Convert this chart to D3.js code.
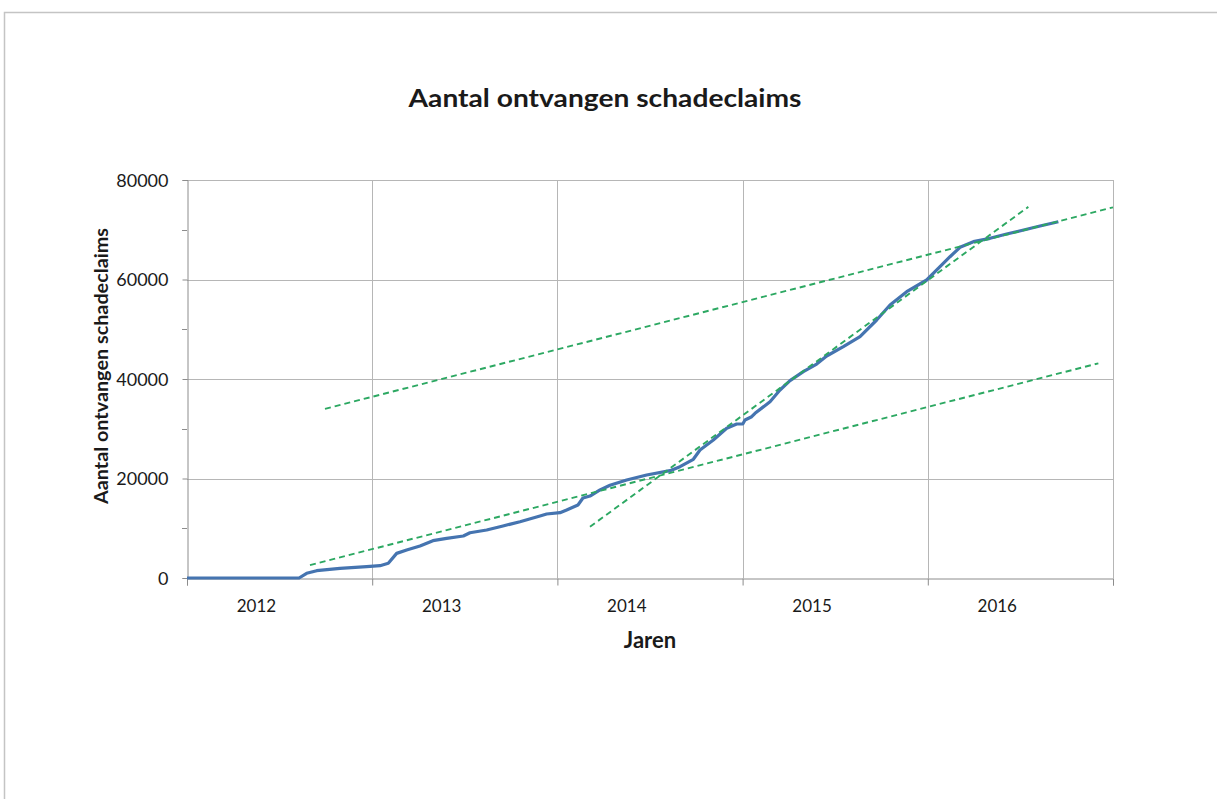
<!DOCTYPE html>
<html>
<head>
<meta charset="utf-8">
<script src="https://cdn.jsdelivr.net/npm/d3@7"></script>
<style>
  html, body { margin: 0; padding: 0; background: #fff; }
  svg { display: block; }
  text { font-family: Lato, "Open Sans", "Liberation Sans", sans-serif; fill: #1a1a1a; }
</style>
</head>
<body>
<svg id="chart" width="1217" height="799"></svg>
<script>
// ---- data ----
const titleText = "Aantal ontvangen schadeclaims";
const yAxisTitle = "Aantal ontvangen schadeclaims";
const xAxisTitle = "Jaren";

const yearLabels = ["2012", "2013", "2014", "2015", "2016"];
const yearBoundaries = [2012, 2013, 2014, 2015, 2016, 2017];
const yMajorTicks = [0, 20000, 40000, 60000, 80000];
const yMinorTicks = [10000, 30000, 50000, 70000];

// cumulative claims (time as fractional year)
const claimYears = [2012.0, 2012.605, 2012.646, 2012.700, 2012.826, 2012.970, 2013.042, 2013.087, 2013.132,
  2013.186, 2013.258, 2013.328, 2013.402, 2013.492, 2013.528, 2013.618, 2013.706, 2013.798, 2013.906,
  2013.942, 2014.014, 2014.050, 2014.111, 2014.138, 2014.176, 2014.230, 2014.284, 2014.374, 2014.482,
  2014.608, 2014.662, 2014.734, 2014.770, 2014.842, 2014.914, 2014.968, 2015.001, 2015.013, 2015.049,
  2015.067, 2015.148, 2015.202, 2015.256, 2015.328, 2015.400, 2015.454, 2015.544, 2015.634, 2015.724,
  2015.796, 2015.886, 2015.994, 2016.066, 2016.120, 2016.174, 2016.246, 2016.336, 2016.426, 2016.534,
  2016.606, 2016.705];
const claimCounts = [0, 0, 950, 1470, 1950, 2270, 2470, 2950, 4950,
  5630, 6430, 7500, 7980, 8440, 9100, 9650, 10450, 11320, 12460,
  12860, 13130, 13670, 14670, 16080, 16480, 17690, 18630, 19700, 20700,
  21570, 22370, 23860, 25730, 27740, 30090, 30950, 30950, 31760, 32420,
  33100, 35440, 37790, 39660, 41470, 43010, 44620, 46490, 48500, 51860,
  54870, 57550, 59900, 62570, 64580, 66470, 67600, 68280, 69140, 70090,
  70750, 71620];

// dashed trend lines: [start, end]
const trendUpperYears = [2012.745, 2017.0];
const trendUpperValues = [34000, 74500];
const trendLowerYears = [2012.664, 2016.921];
const trendLowerValues = [2600, 43150];
const trendSteepYears = [2014.176, 2016.543];
const trendSteepValues = [10300, 74600];

// ---- layout ----
const svg = d3.select("#chart");
const plot = { left: 187, right: 1113, top: 180, bottom: 578 };

const x = d3.scaleLinear().domain([2012, 2017]).range([plot.left, plot.right]);
const y = d3.scaleLinear().domain([0, 80000]).range([plot.bottom, plot.top]);

// outer chart border
svg.append("rect")
  .attr("x", 4.5).attr("y", 12.5)
  .attr("width", 1300).attr("height", 900)
  .attr("fill", "none").attr("stroke", "#c4c4c4").attr("stroke-width", 1.5);

// horizontal gridlines
svg.append("g").selectAll("line").data(yMajorTicks.filter(d => d > 0)).join("line")
  .attr("x1", plot.left).attr("x2", plot.right)
  .attr("y1", d => Math.round(y(d)) + 0.5).attr("y2", d => Math.round(y(d)) + 0.5)
  .attr("stroke", "#b6b6b6").attr("stroke-width", 1);

// vertical gridlines at year boundaries
svg.append("g").selectAll("line").data(yearBoundaries.slice(1)).join("line")
  .attr("x1", d => Math.round(x(d)) + 0.5).attr("x2", d => Math.round(x(d)) + 0.5)
  .attr("y1", plot.top).attr("y2", plot.bottom)
  .attr("stroke", "#b6b6b6").attr("stroke-width", 1);

// y axis
const yAxis = d3.axisLeft(y).tickValues(yMajorTicks).tickSize(5).tickPadding(14).tickFormat(d3.format("d"));
const gy = svg.append("g").attr("transform", `translate(${plot.left + 0.5},0)`).call(yAxis);
gy.select(".domain").attr("stroke", "#8c8c8c");
gy.selectAll(".tick line").attr("stroke", "#8c8c8c");
gy.selectAll(".tick text").style("font-size", "18px").attr("fill", "#1a1a1a").attr("dy", "0.34em");
// minor ticks
svg.append("g").selectAll("line").data(yMinorTicks).join("line")
  .attr("x1", plot.left - 5).attr("x2", plot.left)
  .attr("y1", d => Math.round(y(d)) + 0.5).attr("y2", d => Math.round(y(d)) + 0.5)
  .attr("stroke", "#8c8c8c");

// x axis (ticks at year boundaries, labels inside the year)
const xAxis = d3.axisBottom(x).tickValues(yearBoundaries).tickSize(7).tickFormat("");
const gx = svg.append("g").attr("transform", `translate(0,${plot.bottom + 0.5})`).call(xAxis);
gx.select(".domain").attr("stroke", "#8c8c8c");
gx.selectAll(".tick line").attr("stroke", "#8c8c8c");

svg.append("g").selectAll("text").data(yearLabels).join("text")
  .attr("x", d => x(+d + 0.375))
  .attr("y", 612)
  .attr("text-anchor", "middle")
  .style("font-size", "17px")
  .text(d => d);

// trend lines
const line = d3.line().x(d => x(d[0])).y(d => y(d[1]));
const trends = [
  d3.zip(trendUpperYears, trendUpperValues),
  d3.zip(trendLowerYears, trendLowerValues),
  d3.zip(trendSteepYears, trendSteepValues)
];

// data line
svg.append("path")
  .datum(d3.zip(claimYears, claimCounts))
  .attr("d", line)
  .attr("fill", "none")
  .attr("stroke", "#4574b0")
  .attr("stroke-width", 3.2)
  .attr("stroke-linejoin", "round");

svg.append("g").selectAll("path").data(trends).join("path")
  .attr("d", line)
  .attr("fill", "none")
  .attr("stroke", "#2ca862")
  .attr("stroke-width", 1.9)
  .attr("stroke-dasharray", "6,4");

// titles
svg.append("text")
  .attr("x", 605).attr("y", 107)
  .attr("text-anchor", "middle")
  .style("font-size", "24px").style("font-weight", "bold")
  .attr("textLength", 393).attr("lengthAdjust", "spacingAndGlyphs")
  .text(titleText);

svg.append("text")
  .attr("transform", "translate(108,366) rotate(-90)")
  .attr("text-anchor", "middle")
  .style("font-size", "18px").style("font-weight", "bold")
  .attr("textLength", 276).attr("lengthAdjust", "spacingAndGlyphs")
  .text(yAxisTitle);

svg.append("text")
  .attr("x", 650).attr("y", 648)
  .attr("text-anchor", "middle")
  .style("font-size", "22px").style("font-weight", "bold")
  .text(xAxisTitle);
</script>
</body>
</html>
